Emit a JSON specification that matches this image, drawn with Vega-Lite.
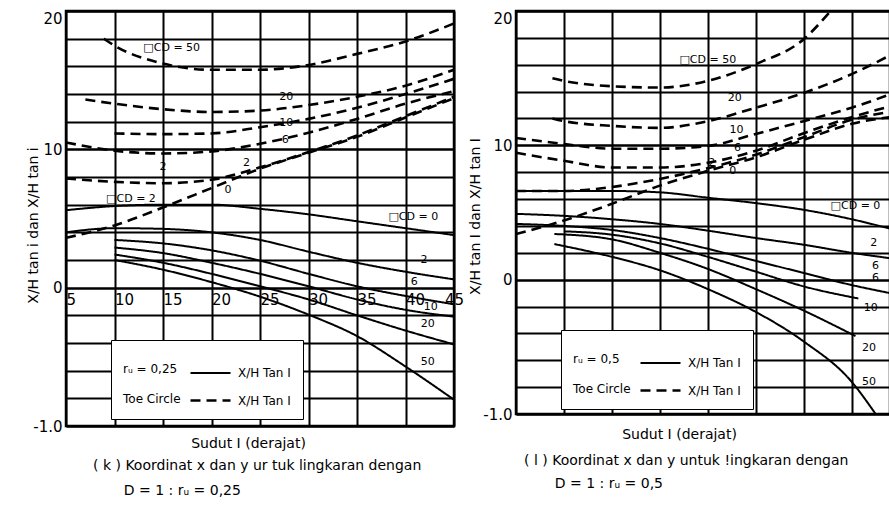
{
  "$schema": "https://vega.github.io/schema/vega-lite/v6.json",
  "background": "white",
  "padding": {"left": 24, "top": 9, "right": 0, "bottom": 0},
  "autosize": {"type": "pad"},
  "spacing": 62,
  "bounds": "flush",
  "resolve": {"scale": {"strokeDash": "independent", "strokeWidth": "independent"}, "legend": {"strokeDash": "independent"}},
  "config": {
    "font": "DejaVu Sans",
    "view": {"stroke": "black", "strokeWidth": 2.5},
    "axis": {
      "grid": true, "gridColor": "black", "gridWidth": 2, "gridOpacity": 1, "labelOverlap": false,
      "ticks": false, "domain": false, "labelColor": "black", "titleColor": "black",
      "labelFont": "DejaVu Sans", "titleFont": "DejaVu Sans"
    },
    "text": {"font": "DejaVu Sans", "fontSize": 11, "color": "black"}
  },
  "datasets": {
    "k_lines": [
      {"i":5,"v":5.6,"type":"r","c":0},{"i":10,"v":5.9,"type":"r","c":0},{"i":15,"v":6.0,"type":"r","c":0},{"i":20,"v":6.0,"type":"r","c":0},{"i":25,"v":5.7,"type":"r","c":0},{"i":30,"v":5.3,"type":"r","c":0},{"i":35,"v":4.8,"type":"r","c":0},{"i":40,"v":4.3,"type":"r","c":0},{"i":45,"v":3.8,"type":"r","c":0},
      {"i":5,"v":4.0,"type":"r","c":2},{"i":10,"v":4.3,"type":"r","c":2},{"i":15,"v":4.25,"type":"r","c":2},{"i":20,"v":4.0,"type":"r","c":2},{"i":25,"v":3.45,"type":"r","c":2},{"i":30,"v":2.6,"type":"r","c":2},{"i":35,"v":1.8,"type":"r","c":2},{"i":40,"v":1.15,"type":"r","c":2},{"i":45,"v":0.6,"type":"r","c":2},
      {"i":10,"v":3.45,"type":"r","c":6},{"i":15,"v":3.2,"type":"r","c":6},{"i":20,"v":2.7,"type":"r","c":6},{"i":25,"v":1.95,"type":"r","c":6},{"i":30,"v":1.0,"type":"r","c":6},{"i":35,"v":0.1,"type":"r","c":6},{"i":40,"v":-0.6,"type":"r","c":6},{"i":45,"v":-1.2,"type":"r","c":6},
      {"i":10,"v":2.9,"type":"r","c":10},{"i":15,"v":2.5,"type":"r","c":10},{"i":20,"v":1.8,"type":"r","c":10},{"i":25,"v":1.0,"type":"r","c":10},{"i":30,"v":0.1,"type":"r","c":10},{"i":35,"v":-0.85,"type":"r","c":10},{"i":40,"v":-1.6,"type":"r","c":10},{"i":45,"v":-2.1,"type":"r","c":10},
      {"i":10,"v":2.4,"type":"r","c":20},{"i":15,"v":1.8,"type":"r","c":20},{"i":20,"v":1.0,"type":"r","c":20},{"i":25,"v":0.1,"type":"r","c":20},{"i":30,"v":-0.85,"type":"r","c":20},{"i":35,"v":-2.0,"type":"r","c":20},{"i":40,"v":-3.1,"type":"r","c":20},{"i":45,"v":-4.1,"type":"r","c":20},
      {"i":10,"v":2.0,"type":"r","c":50},{"i":15,"v":1.3,"type":"r","c":50},{"i":20,"v":0.4,"type":"r","c":50},{"i":25,"v":-0.65,"type":"r","c":50},{"i":30,"v":-1.95,"type":"r","c":50},{"i":35,"v":-3.5,"type":"r","c":50},{"i":40,"v":-5.7,"type":"r","c":50},{"i":45,"v":-8.1,"type":"r","c":50},
      {"i":8.9,"v":18.0,"type":"t","c":50},{"i":10,"v":17.5,"type":"t","c":50},{"i":15,"v":16.2,"type":"t","c":50},{"i":20,"v":15.75,"type":"t","c":50},{"i":25,"v":15.75,"type":"t","c":50},{"i":30,"v":16.1,"type":"t","c":50},{"i":35,"v":16.9,"type":"t","c":50},{"i":40,"v":17.8,"type":"t","c":50},{"i":45,"v":19.1,"type":"t","c":50},
      {"i":7,"v":13.6,"type":"t","c":20},{"i":10,"v":13.3,"type":"t","c":20},{"i":15,"v":12.9,"type":"t","c":20},{"i":20,"v":12.7,"type":"t","c":20},{"i":25,"v":12.8,"type":"t","c":20},{"i":30,"v":13.2,"type":"t","c":20},{"i":35,"v":13.8,"type":"t","c":20},{"i":40,"v":14.6,"type":"t","c":20},{"i":45,"v":15.75,"type":"t","c":20},
      {"i":10,"v":11.15,"type":"t","c":10},{"i":15,"v":11.1,"type":"t","c":10},{"i":20,"v":11.15,"type":"t","c":10},{"i":25,"v":11.6,"type":"t","c":10},{"i":30,"v":12.2,"type":"t","c":10},{"i":35,"v":13.0,"type":"t","c":10},{"i":40,"v":14.0,"type":"t","c":10},{"i":45,"v":15.1,"type":"t","c":10},
      {"i":5,"v":10.5,"type":"t","c":6},{"i":10,"v":9.9,"type":"t","c":6},{"i":15,"v":9.7,"type":"t","c":6},{"i":20,"v":9.85,"type":"t","c":6},{"i":25,"v":10.4,"type":"t","c":6},{"i":30,"v":11.2,"type":"t","c":6},{"i":35,"v":12.2,"type":"t","c":6},{"i":40,"v":13.3,"type":"t","c":6},{"i":45,"v":14.2,"type":"t","c":6},
      {"i":5,"v":7.9,"type":"t","c":2},{"i":10,"v":7.65,"type":"t","c":2},{"i":15,"v":7.55,"type":"t","c":2},{"i":20,"v":7.8,"type":"t","c":2},{"i":25,"v":8.7,"type":"t","c":2},{"i":30,"v":9.8,"type":"t","c":2},{"i":35,"v":11.0,"type":"t","c":2},{"i":40,"v":12.4,"type":"t","c":2},{"i":45,"v":13.8,"type":"t","c":2},
      {"i":5,"v":3.6,"type":"t","c":0},{"i":10,"v":4.5,"type":"t","c":0},{"i":15,"v":5.8,"type":"t","c":0},{"i":20,"v":7.2,"type":"t","c":0},{"i":25,"v":8.6,"type":"t","c":0},{"i":30,"v":9.75,"type":"t","c":0},{"i":35,"v":10.9,"type":"t","c":0},{"i":40,"v":12.3,"type":"t","c":0},{"i":45,"v":13.7,"type":"t","c":0}
    ],
    "k_labels": [
      {"i":15.9,"v":17.3,"t":"□CD = 50"},{"i":27.7,"v":13.75,"t":"20"},{"i":27.7,"v":11.9,"t":"10"},{"i":27.6,"v":10.7,"t":"6"},
      {"i":15,"v":8.7,"t":"2"},{"i":23.6,"v":9.0,"t":"2"},{"i":21.7,"v":7.05,"t":"0"},{"i":11.7,"v":6.4,"t":"□CD = 2"},
      {"i":40.8,"v":5.1,"t":"□CD = 0"},{"i":41.9,"v":2.0,"t":"2"},{"i":40.9,"v":0.43,"t":"6"},{"i":42.6,"v":-1.37,"t":"10"},
      {"i":42.3,"v":-2.66,"t":"20"},{"i":42.3,"v":-5.4,"t":"50"}
    ],
    "l_lines": [
      {"i":5,"v":6.6,"type":"r","c":0},{"i":10,"v":6.6,"type":"r","c":0},{"i":15,"v":6.6,"type":"r","c":0},{"i":20,"v":6.5,"type":"r","c":0},{"i":25,"v":6.1,"type":"r","c":0},{"i":30,"v":5.7,"type":"r","c":0},{"i":35,"v":5.2,"type":"r","c":0},{"i":40,"v":4.5,"type":"r","c":0},{"i":44,"v":3.8,"type":"r","c":0},
      {"i":5,"v":4.9,"type":"r","c":2},{"i":10,"v":4.75,"type":"r","c":2},{"i":15,"v":4.5,"type":"r","c":2},{"i":20,"v":4.15,"type":"r","c":2},{"i":25,"v":3.65,"type":"r","c":2},{"i":30,"v":3.1,"type":"r","c":2},{"i":35,"v":2.6,"type":"r","c":2},{"i":40,"v":2.0,"type":"r","c":2},{"i":44,"v":1.6,"type":"r","c":2},
      {"i":5,"v":4.15,"type":"r","c":6},{"i":10,"v":4.0,"type":"r","c":6},{"i":15,"v":3.7,"type":"r","c":6},{"i":20,"v":3.1,"type":"r","c":6},{"i":25,"v":2.3,"type":"r","c":6},{"i":30,"v":1.4,"type":"r","c":6},{"i":35,"v":0.5,"type":"r","c":6},{"i":40,"v":-0.4,"type":"r","c":6},{"i":44,"v":-1.0,"type":"r","c":6},
      {"i":10,"v":3.6,"type":"r","c":10},{"i":15,"v":3.35,"type":"r","c":10},{"i":20,"v":2.7,"type":"r","c":10},{"i":25,"v":1.7,"type":"r","c":10},{"i":30,"v":0.6,"type":"r","c":10},{"i":35,"v":-0.5,"type":"r","c":10},{"i":40.7,"v":-1.4,"type":"r","c":10},
      {"i":9,"v":3.4,"type":"r","c":20},{"i":15,"v":3.0,"type":"r","c":20},{"i":20,"v":2.0,"type":"r","c":20},{"i":25,"v":0.8,"type":"r","c":20},{"i":30,"v":-0.7,"type":"r","c":20},{"i":35,"v":-2.3,"type":"r","c":20},{"i":40.4,"v":-4.2,"type":"r","c":20},
      {"i":9,"v":2.65,"type":"r","c":50},{"i":15,"v":1.7,"type":"r","c":50},{"i":20,"v":0.7,"type":"r","c":50},{"i":25,"v":-0.7,"type":"r","c":50},{"i":30,"v":-2.4,"type":"r","c":50},{"i":35,"v":-4.6,"type":"r","c":50},{"i":40,"v":-7.6,"type":"r","c":50},{"i":42.5,"v":-10,"type":"r","c":50},
      {"i":8.8,"v":15.0,"type":"t","c":50},{"i":10,"v":14.8,"type":"t","c":50},{"i":15,"v":14.4,"type":"t","c":50},{"i":20,"v":14.3,"type":"t","c":50},{"i":25,"v":14.8,"type":"t","c":50},{"i":30,"v":16.05,"type":"t","c":50},{"i":35,"v":17.9,"type":"t","c":50},{"i":37.8,"v":20,"type":"t","c":50},
      {"i":8.8,"v":12.0,"type":"t","c":20},{"i":10,"v":11.8,"type":"t","c":20},{"i":15,"v":11.45,"type":"t","c":20},{"i":20,"v":11.3,"type":"t","c":20},{"i":25,"v":11.8,"type":"t","c":20},{"i":30,"v":12.8,"type":"t","c":20},{"i":35,"v":13.9,"type":"t","c":20},{"i":40,"v":15.3,"type":"t","c":20},{"i":44,"v":16.7,"type":"t","c":20},
      {"i":5,"v":10.55,"type":"t","c":10},{"i":10,"v":10.1,"type":"t","c":10},{"i":15,"v":9.75,"type":"t","c":10},{"i":20,"v":9.75,"type":"t","c":10},{"i":25,"v":9.95,"type":"t","c":10},{"i":30,"v":10.85,"type":"t","c":10},{"i":35,"v":11.8,"type":"t","c":10},{"i":40,"v":12.8,"type":"t","c":10},{"i":44,"v":13.8,"type":"t","c":10},
      {"i":5,"v":9.45,"type":"t","c":6},{"i":10,"v":8.85,"type":"t","c":6},{"i":15,"v":8.35,"type":"t","c":6},{"i":20,"v":8.35,"type":"t","c":6},{"i":25,"v":8.7,"type":"t","c":6},{"i":30,"v":9.6,"type":"t","c":6},{"i":35,"v":10.9,"type":"t","c":6},{"i":40,"v":12.1,"type":"t","c":6},{"i":44,"v":12.9,"type":"t","c":6},
      {"i":5,"v":6.6,"type":"t","c":2},{"i":10,"v":6.6,"type":"t","c":2},{"i":15,"v":6.9,"type":"t","c":2},{"i":20,"v":7.5,"type":"t","c":2},{"i":25,"v":8.3,"type":"t","c":2},{"i":30,"v":9.3,"type":"t","c":2},{"i":35,"v":10.6,"type":"t","c":2},{"i":40,"v":11.9,"type":"t","c":2},{"i":44,"v":12.5,"type":"t","c":2},
      {"i":5,"v":3.4,"type":"t","c":0},{"i":10,"v":4.4,"type":"t","c":0},{"i":15,"v":5.65,"type":"t","c":0},{"i":20,"v":7.0,"type":"t","c":0},{"i":25,"v":8.1,"type":"t","c":0},{"i":30,"v":9.1,"type":"t","c":0},{"i":35,"v":10.4,"type":"t","c":0},{"i":40,"v":11.6,"type":"t","c":0},{"i":44,"v":12.1,"type":"t","c":0}
    ],
    "l_labels": [
      {"i":25,"v":16.35,"t":"□CD = 50"},{"i":27.8,"v":13.5,"t":"20"},{"i":28,"v":11.15,"t":"10"},{"i":28.1,"v":9.8,"t":"6"},
      {"i":25.4,"v":8.7,"t":"2"},{"i":27.6,"v":8.1,"t":"0"},{"i":40.4,"v":5.5,"t":"□CD = 0"},{"i":42.3,"v":2.75,"t":"2"},
      {"i":42.5,"v":1.05,"t":"6"},{"i":42.5,"v":0.1,"t":"6"},{"i":42,"v":-2.1,"t":"10"},{"i":41.8,"v":-5.05,"t":"20"},{"i":41.8,"v":-7.65,"t":"50"}
    ]
  },
  "hconcat": [
    {
      "width": 388,
      "height": 415,
      "title": {
        "text": "( k ) Koordinat x dan y ur tuk lingkaran dengan",
        "subtitle": "\u2800\u2800\u2800D = 1 : rᵤ = 0,25",
        "orient": "bottom", "anchor": "start", "frame": "group", "dx": 27, "offset": 9,
        "font": "DejaVu Sans", "fontSize": 14, "fontWeight": "normal", "color": "black",
        "subtitleFont": "DejaVu Sans", "subtitleFontSize": 14, "subtitleColor": "black",
        "subtitlePadding": 11
      },
      "resolve": {"axis": {"x": "independent", "y": "independent"}},
      "layer": [
        {
          "data": {"name": "k_lines"},
          "mark": {"type": "line", "interpolate": "monotone", "clip": true, "color": "black"},
          "encoding": {
            "x": {"field": "i", "type": "quantitative",
              "scale": {"domain": [5, 45], "nice": false, "zero": false},
              "axis": {"orient": "bottom", "values": [5,10,15,20,25,30,35,40,45], "offset": -138, "title": null,
                "labelFontSize": 15, "labelBaseline": "top", "labelPadding": 4, "labelFlush": false, "labelOverlap": false,
                "labelAlign": {"condition": {"test": "datum.value == 45", "value": "center"}, "value": "left"}}},
            "y": {"field": "v", "type": "quantitative",
              "scale": {"domain": [-10, 20], "nice": false, "zero": false},
              "axis": {"orient": "left", "values": [-10, 0, 10, 20], "labelOverlap": false, "labelFlush": false,
                "labelExpr": "datum.value == -10 ? '-1.0' : datum.label",
                "labelFontSize": 15, "labelPadding": 4,
                "labelBaseline": {"condition": {"test": "datum.value == 20", "value": "top"}, "value": "middle"},
                "title": "X/H tan i dan X/H tan i", "titleFontSize": 14, "titleFontWeight": "normal",
                "titleX": -26, "titleY": 214, "titleAngle": -90, "titleAlign": "center", "titleBaseline": "bottom"}},
            "strokeDash": {"field": "type", "type": "nominal",
              "scale": {"domain": ["r", "t"], "range": [[1, 0], [10, 6]]},
              "legend": {"orient": "none", "legendX": 45, "legendY": 329,
                "title": ["rᵤ = 0,25", "Toe Circle"], "titleOrient": "left", "titleAnchor": "middle", "titleBaseline": "top",
                "titleLineHeight": 30, "titleFontSize": 12, "titleFontWeight": "normal", "titlePadding": 8, "titleColor": "black",
                "labelExpr": "'X/H Tan I'", "labelFontSize": 12, "labelColor": "black", "labelOffset": 6,
                "symbolType": "stroke", "symbolSize": 1600, "symbolStrokeWidth": 2, "symbolStrokeColor": "black",
                "rowPadding": -10, "fillColor": "white", "strokeColor": "black", "padding": 12}},
            "strokeWidth": {"field": "type", "type": "nominal", "scale": {"domain": ["r", "t"], "range": [2, 2.6]}, "legend": null},
            "detail": {"field": "c", "type": "nominal"}
          }
        },
        {
          "data": {"name": "k_labels"},
          "mark": {"type": "text", "fontSize": 11},
          "encoding": {
            "x": {"field": "i", "type": "quantitative",
              "axis": {"orient": "bottom", "grid": false, "labels": false, "title": "Sudut I (derajat)",
                "titleFontSize": 14, "titleFontWeight": "normal", "titleX": 182, "titleAnchor": "middle", "titlePadding": 10}},
            "y": {"field": "v", "type": "quantitative",
              "axis": {"orient": "left", "values": [-10,-8,-6,-4,-2,0,2,4,6,8,10,12,14,16,18,20], "labels": false, "title": null, "grid": true}},
            "text": {"field": "t"}
          }
        }
      ]
    },
    {
      "width": 374,
      "height": 403,
      "title": {
        "text": "( l ) Koordinat x dan y untuk !ingkaran dengan",
        "subtitle": "\u2800\u2800\u2800D = 1 : rᵤ = 0,5",
        "orient": "bottom", "anchor": "start", "frame": "group", "dx": 8, "offset": 13,
        "font": "DejaVu Sans", "fontSize": 14, "fontWeight": "normal", "color": "black",
        "subtitleFont": "DejaVu Sans", "subtitleFontSize": 14, "subtitleColor": "black",
        "subtitlePadding": 9
      },
      "resolve": {"axis": {"y": "independent"}},
      "layer": [
        {
          "data": {"name": "l_lines"},
          "mark": {"type": "line", "interpolate": "monotone", "clip": true, "color": "black"},
          "encoding": {
            "x": {"field": "i", "type": "quantitative",
              "scale": {"domain": [5, 44], "nice": false, "zero": false},
              "axis": {"values": [5,10,15,20,25,30,35,40], "labels": false, "title": "Sudut I (derajat)",
                "titleFontSize": 14, "titleFontWeight": "normal", "titleX": 163, "titleAnchor": "middle", "titlePadding": 13}},
            "y": {"field": "v", "type": "quantitative",
              "scale": {"domain": [-10, 20], "nice": false, "zero": false},
              "axis": {"orient": "left", "values": [-10, 0, 10, 20], "labelOverlap": false, "labelFlush": false,
                "labelExpr": "datum.value == -10 ? '-1.0' : datum.label",
                "labelFontSize": 15, "labelPadding": 4,
                "labelBaseline": {"condition": {"test": "datum.value == 20", "value": "top"}, "value": "middle"},
                "title": "X/H tan I dan X/H tan I", "titleFontSize": 14, "titleFontWeight": "normal",
                "titleX": -34, "titleY": 205, "titleAngle": -90, "titleAlign": "center", "titleBaseline": "bottom"}},
            "strokeDash": {"field": "type", "type": "nominal",
              "scale": {"domain": ["r", "t"], "range": [[1, 0], [10, 6]]},
              "legend": {"orient": "none", "legendX": 45, "legendY": 319,
                "title": ["rᵤ = 0,5", "Toe Circle"], "titleOrient": "left", "titleAnchor": "middle", "titleBaseline": "top",
                "titleLineHeight": 30, "titleFontSize": 12, "titleFontWeight": "normal", "titlePadding": 8, "titleColor": "black",
                "labelExpr": "'X/H Tan I'", "labelFontSize": 12, "labelColor": "black", "labelOffset": 6,
                "symbolType": "stroke", "symbolSize": 1600, "symbolStrokeWidth": 2, "symbolStrokeColor": "black",
                "rowPadding": -10, "fillColor": "white", "strokeColor": "black", "padding": 12}},
            "strokeWidth": {"field": "type", "type": "nominal", "scale": {"domain": ["r", "t"], "range": [2, 2.6]}, "legend": null},
            "detail": {"field": "c", "type": "nominal"}
          }
        },
        {
          "data": {"name": "l_labels"},
          "mark": {"type": "text", "fontSize": 11},
          "encoding": {
            "x": {"field": "i", "type": "quantitative"},
            "y": {"field": "v", "type": "quantitative",
              "axis": {"orient": "left", "values": [-10,-8,-6,-4,-2,0,2,4,6,8,10,12,14,16,18,20], "labels": false, "title": null, "grid": true}},
            "text": {"field": "t"}
          }
        }
      ]
    }
  ]
}
